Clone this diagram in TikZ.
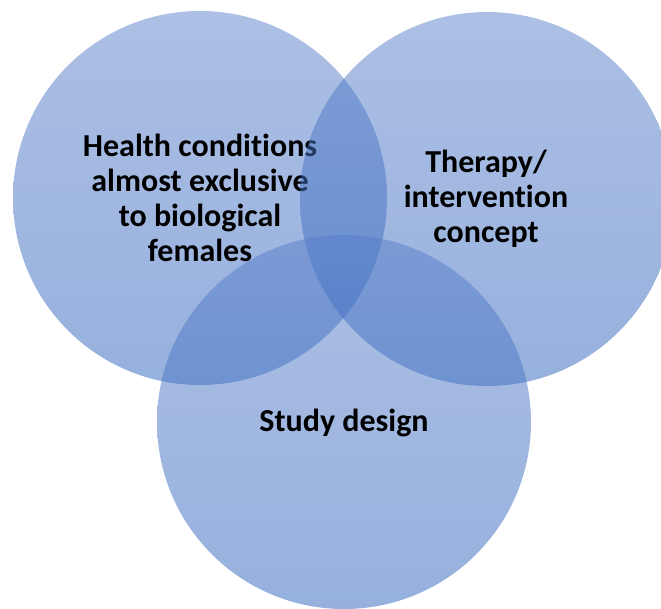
\documentclass[tikz,border=0pt]{standalone}
\usepackage{fontspec}
\setmainfont{Carlito}[Ligatures=NoCommon]
\definecolor{venntop}{HTML}{5A80CA}
\definecolor{vennbot}{HTML}{2E62BC}
\tikzset{
  venn/.style={circle, minimum size=374pt, inner sep=0pt, draw=none,
    top color=venntop, bottom color=vennbot, fill opacity=0.5},
  label/.style={align=center, font=\fontsize{32}{35}\selectfont\bfseries,
    text=black, inner sep=0pt}
}
\begin{document}
\begin{tikzpicture}[x=1pt,y=-1pt]
  \useasboundingbox (0,0) rectangle (661,608);
  \clip (0,0) rectangle (661,608);
  \node[venn] (health) at (200,198) {};
  \node[label] (healthtext) at (200,198) {Health conditions\\almost exclusive\\to biological\\females};
  \node[venn] (therapy) at (487,199) {};
  \node[label] (therapytext) at (486,199) {Therapy/\\intervention\\concept};
  \node[venn] (study) at (344,422) {};
  \node[label] (studytext) at (344,423) {Study design};
\end{tikzpicture}
\end{document}
